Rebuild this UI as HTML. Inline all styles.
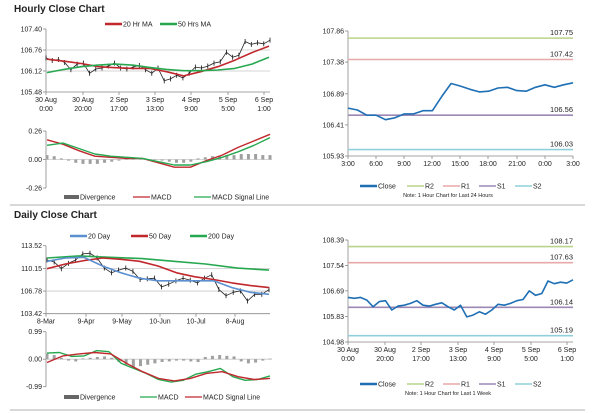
<!DOCTYPE html>
<html><head><meta charset="utf-8"><style>
html,body{margin:0;padding:0;background:#fff;}
svg{display:block;font-family:"Liberation Sans",Arial,sans-serif;}
</style></head><body>
<svg id="s" width="600" height="413" viewBox="0 0 600 413"></svg>
<script>
// ---- Hourly (1 week) close data, shared shape with candles ----
const weekClose = [106.47,106.44,106.47,106.38,106.16,106.33,106.36,106.05,106.18,106.21,106.27,106.36,106.21,106.18,106.24,106.29,106.16,106.05,106.21,105.82,105.88,105.99,105.91,106.05,106.24,106.21,106.27,106.36,106.40,106.69,106.54,106.60,107.02,106.93,106.98,106.95,107.06];
const candleClose = [106.52,106.44,106.47,106.38,106.16,106.33,106.36,106.05,106.18,106.21,106.27,106.36,106.21,106.18,106.24,106.29,106.16,106.05,106.21,105.82,105.88,105.99,105.91,106.05,106.24,106.21,106.27,106.36,106.40,106.69,106.54,106.60,107.02,106.93,106.98,106.95,107.06];
const ma20h = [106.48,106.42,106.35,106.25,106.22,106.20,106.20,106.10,105.97,106.10,106.25,106.45,106.68,106.88];
const ma50h = [106.07,106.17,106.25,106.30,106.33,106.30,106.23,106.17,106.13,106.13,106.15,106.20,106.33,106.54];
const macdH = [0.18,0.14,0.08,0.03,0.02,0.01,0.01,-0.03,-0.07,-0.07,-0.01,0.04,0.11,0.17,0.23];
const signalH = [0.13,0.15,0.10,0.05,0.03,0.02,0.01,-0.02,-0.05,-0.05,-0.02,0.02,0.07,0.13,0.20];
const divH = [0.04,0.03,0.01,-0.01,-0.03,-0.04,-0.04,-0.04,-0.03,-0.02,-0.01,0.0,0.01,0.01,0.0,0.0,-0.01,-0.02,-0.03,-0.03,-0.02,0.01,0.02,0.03,0.03,0.04,0.04,0.05,0.05,0.05,0.04,0.04];
const hourTicks = ["30 Aug|0:00","30 Aug|20:00","2 Sep|17:00","3 Sep|13:00","4 Sep|9:00","5 Sep|5:00","6 Sep|1:00"];
// ---- Daily ----
const dayClose = [111.4,111.1,110.1,110.9,111.4,112.3,112.4,111.7,110.2,109.5,109.9,110.2,109.7,108.5,108.6,108.7,107.4,107.8,108.3,108.7,108.4,108.0,108.7,109.2,107.0,106.1,106.6,106.8,105.3,106.3,106.3,107.0];
const ma20d = [111.2,111.7,111.8,110.5,109.5,108.7,108.3,108.3,108.3,108.3,107.3,106.6,106.3];
const ma50d = [110.1,110.8,111.3,111.7,111.5,111.2,110.5,109.5,108.9,108.5,108.0,107.6,107.3];
const ma200d = [111.7,112.0,111.8,111.6,111.2,110.8,110.2,109.9];
const macdD = [0.22,0.24,0.10,0.12,0.31,0.27,-0.15,-0.33,-0.51,-0.73,-0.82,-0.76,-0.54,-0.45,-0.33,-0.63,-0.76,-0.73,-0.60];
const signalD = [-0.12,0.12,0.19,0.24,0.19,-0.15,-0.45,-0.69,-0.78,-0.69,-0.51,-0.45,-0.63,-0.73,-0.69];
const divD = [0.2,0.15,0.05,-0.05,-0.08,0.03,0.05,0.08,0.1,0.05,-0.1,-0.2,-0.3,-0.25,-0.2,-0.15,-0.1,-0.08,-0.05,-0.05,-0.08,-0.1,0.08,0.12,0.15,0.12,0.1,-0.08,-0.15,-0.12,-0.05,0.02];
const dayTicks = ["8-Mar","9-Apr","9-May","10-Jun","10-Jul","8-Aug"];
// ---- 24h ----
const dayHourClose = [106.67,106.64,106.56,106.56,106.49,106.52,106.58,106.58,106.63,106.63,106.85,107.05,107.01,106.96,106.92,106.93,106.98,106.99,106.94,106.93,106.99,107.03,106.99,107.03,107.06];
const h24Ticks = ["3:00","6:00","9:00","12:00","15:00","18:00","21:00","0:00","3:00"];
const levels24 = [107.75,107.42,106.56,106.03];
const levelsWk = [108.17,107.63,106.14,105.19];
const levelNames = ["r2","r1","s1","s2"];
const levelColors = ["#b9d38a","#e8a9a9","#9b88b5","#8fd0dc"];

const S=document.getElementById('s');
const NS='http://www.w3.org/2000/svg';
function mk(tag,attrs,name,parent){
  const el=document.createElementNS(NS,tag);
  for(const k in attrs) el.setAttribute(k,attrs[k]);
  
  
  (parent||S).appendChild(el);return el;
}
function txt(x,y,s,name,o){o=o||{};const t=mk('text',{x:x,y:y,'font-size':o.fs||7,fill:o.fill||'#222','text-anchor':o.anchor||'start','font-weight':o.bold?'bold':'normal'},name);t.textContent=s;return t;}
function scale(d0,d1,r0,r1){return v=>r0+(v-d0)/(d1-d0)*(r1-r0);}
function line(arr,xs,ys,x0,x1,color,w,name){
  const n=arr.length;const pts=arr.map((v,i)=>(x0+i*(x1-x0)/(n-1)).toFixed(1)+','+ys(v).toFixed(1)).join(' ');
  return mk('polyline',{points:pts,fill:'none',stroke:color,'stroke-width':w,'stroke-linejoin':'round'},name);
}
function bars(arr,x0,x1,ys,name){
  const n=arr.length;const z=ys(0);
  arr.forEach((v,i)=>{const x=x0+i*(x1-x0)/(n-1);const y=ys(v);
    mk('rect',{x:x-1.5,y:Math.min(y,z),width:3,height:Math.max(0.5,Math.abs(y-z)),fill:'#a0a0a0'},name);});
}
function yAxis(x,labels,ys,name,grid,x1){
  mk('line',{x1:x,y1:ys(labels[0]),x2:x,y2:ys(labels[labels.length-1]),stroke:'#888','stroke-width':0.8},name+'-line');
  labels.forEach((v,i)=>{const y=ys(v);
    mk('line',{x1:x-3,y1:y,x2:x,y2:y,stroke:'#888','stroke-width':0.8},name+'-tick');
    if(grid&&i>0&&i<labels.length-1) mk('line',{x1:x,y1:y,x2:x1,y2:y,stroke:'#c8c8c8','stroke-width':0.8},name+'-grid');
    txt(x-4,y+2.5,v.toFixed(2),name+'-label',{anchor:'end'});});
}
function xAxis(y,x0,x1,ticks,name,positions){
  mk('line',{x1:x0,y1:y,x2:x1,y2:y,stroke:'#888','stroke-width':0.8},name+'-line');
  ticks.forEach((t,i)=>{const x=positions[i];
    mk('line',{x1:x,y1:y,x2:x,y2:y+3,stroke:'#888','stroke-width':0.8},name+'-tick');
    const p=t.split('|');p.forEach((s,j)=>txt(x,y+10+j*9,s,name+'-label',{anchor:'middle'}));});
}
function legLine(x,y,color,label,name,w){mk('line',{x1:x,y1:y,x2:x+17,y2:y,stroke:color,'stroke-width':w||2.5},name+'-swatch');txt(x+18,y+2.5,label,name,{});}
function legBox(x,y,label,name){mk('rect',{x:x,y:y-2,width:15,height:4,fill:'#666'},name+'-swatch');txt(x+16,y+2.5,label,name,{});}

// titles & separators
txt(14,12,'Hourly Close Chart','hourly-title',{fs:10,bold:true});
txt(14,218,'Daily Close Chart','daily-title',{fs:10,bold:true});
mk('line',{x1:10,y1:205,x2:585,y2:205,stroke:'#999','stroke-width':0.8},'separator');
mk('line',{x1:10,y1:410,x2:585,y2:410,stroke:'#999','stroke-width':0.8},'separator-bottom');

// ---- Hourly price chart ----
(function(){
  const x0=46,x1=270,ys=scale(107.40,105.48,29,92);
  yAxis(x0,[107.40,106.76,106.12,105.48],ys,'hourly-y',true,x1);
  xAxis(92,x0,x1,hourTicks,'hourly-x',[46,83,119,155,191,228,264]);
  const n=candleClose.length;
  candleClose.forEach((v,i)=>{const x=x0+i*(x1-x0)/(n-1);const y=ys(v);
    mk('line',{x1:x,y1:y-2.5,x2:x,y2:y+2.5,stroke:'#111','stroke-width':0.8},'candle');});
  line(candleClose,null,ys,x0,x1,'#222',0.8,'hourly-close');
  line(ma20h,null,ys,x0+1,x1-1,'#c0282d',1.6,'ma20-line');
  line(ma50h,null,ys,x0+1,x1-1,'#27a850',1.6,'ma50-line');
  legLine(105,24,'#c0282d','20 Hr MA','legend-20hr');
  legLine(160,24,'#27a850','50 Hrs MA','legend-50hr');
  // MACD
  const ym=scale(0.26,-0.26,131,188);
  yAxis(x0,[0.26,0,-0.26],ym,'hmacd-y',true,272);
  bars(divH,x0+1,x1,ym,'hourly-divergence-bar');
  line(macdH,null,ym,x0+1,x1,'#c0282d',1.4,'hourly-macd-line');
  line(signalH,null,ym,x0+1,x1,'#27a850',1.4,'hourly-signal-line');
  legBox(64,197,'Divergence','legend-divergence');
  legLine(133,197,'#c0282d','MACD','legend-macd',1.2);
  legLine(194,197,'#27a850','MACD Signal Line','legend-signal',1.2);
})();

// ---- Daily price chart ----
(function(){
  const x0=46,x1=270,ys=scale(113.52,103.42,245.7,313.7);
  yAxis(x0,[113.52,110.15,106.78,103.42],ys,'daily-y',true,x1);
  xAxis(313.7,x0,x1,dayTicks,'daily-x',[46,86,122,160,196,235]);
  const n=dayClose.length;
  dayClose.forEach((v,i)=>{const x=x0+1+i*(x1-x0-2)/(n-1);const y=ys(v);
    mk('line',{x1:x,y1:y-2.5,x2:x,y2:y+2.5,stroke:'#111','stroke-width':0.8},'daily-candle');});
  line(dayClose,null,ys,x0+1,x1-1,'#222',0.8,'daily-close');
  line(ma200d,null,ys,x0+1,x1-1,'#27a850',1.6,'ma200-line');
  line(ma50d,null,ys,x0+1,x1-1,'#c0282d',1.6,'ma50d-line');
  line(ma20d,null,ys,x0+1,x1-1,'#5b8fd0',1.6,'ma20d-line');
  legLine(70,236,'#5b8fd0','20 Day','legend-20day');
  legLine(131,236,'#c0282d','50 Day','legend-50day');
  legLine(190,236,'#27a850','200 Day','legend-200day');
  const ym=scale(0.99,-0.99,331.7,386.7);
  yAxis(x0,[0.99,0,-0.99],ym,'dmacd-y',true,272);
  bars(divD,x0+1,x1,ym,'daily-divergence-bar');
  line(macdD,null,ym,x0+1,x1,'#27a850',1.4,'daily-macd-line');
  line(signalD,null,ym,x0+1,x1,'#c0282d',1.4,'daily-signal-line');
  legBox(64,397,'Divergence','legend-d-divergence');
  legLine(140,397,'#27a850','MACD','legend-d-macd',1.2);
  legLine(185,397,'#c0282d','MACD Signal Line','legend-d-signal',1.2);
})();

// ---- Pivot charts ----
function pivot(data,levels,yl,yTop,yBot,ticks,tickPos,legY,note,pre){
  const x0=348,x1=573,ys=scale(yl[0],yl[yl.length-1],yTop,yBot);
  yAxis(x0,yl,ys,pre+'-y',false,x1);
  xAxis(yBot,x0,x1,ticks,pre+'-x',tickPos);
  levels.forEach((v,i)=>{const y=ys(v);
    mk('line',{x1:x0,y1:y,x2:x1,y2:y,stroke:levelColors[i],'stroke-width':1.6},pre+'-'+levelNames[i]+'-line');
    txt(x1,y-3,v.toFixed(2),pre+'-'+levelNames[i]+'-label',{anchor:'end',fs:7.5});});
  line(data,null,ys,x0,x1,'#1f6fb4',1.6,pre+'-close-line');
  legLine(360,legY,'#1f6fb4','Close',pre+'-legend-close');
  legLine(407,legY,levelColors[0],'R2',pre+'-legend-r2',1.4);
  legLine(443,legY,levelColors[1],'R1',pre+'-legend-r1',1.4);
  legLine(479,legY,levelColors[2],'S1',pre+'-legend-s1',1.4);
  legLine(515,legY,levelColors[3],'S2',pre+'-legend-s2',1.4);
  txt(448,legY+11,note,pre+'-note',{anchor:'middle',fs:5.5});
}
pivot(dayHourClose,levels24,[107.86,107.38,106.89,106.41,105.93],31,156,h24Ticks,[348,376,404,432,460,488,517,545,573],186,'Note: 1 Hour Chart for Last 24 Hours','pivot24');
pivot(weekClose,levelsWk,[108.39,107.54,106.69,105.83,104.98],240,342,hourTicks,[348,385,421,458,494,531,567],384,'Note: 1 Hour Chart for Last 1 Week','pivotwk');
</script>
</body></html>
